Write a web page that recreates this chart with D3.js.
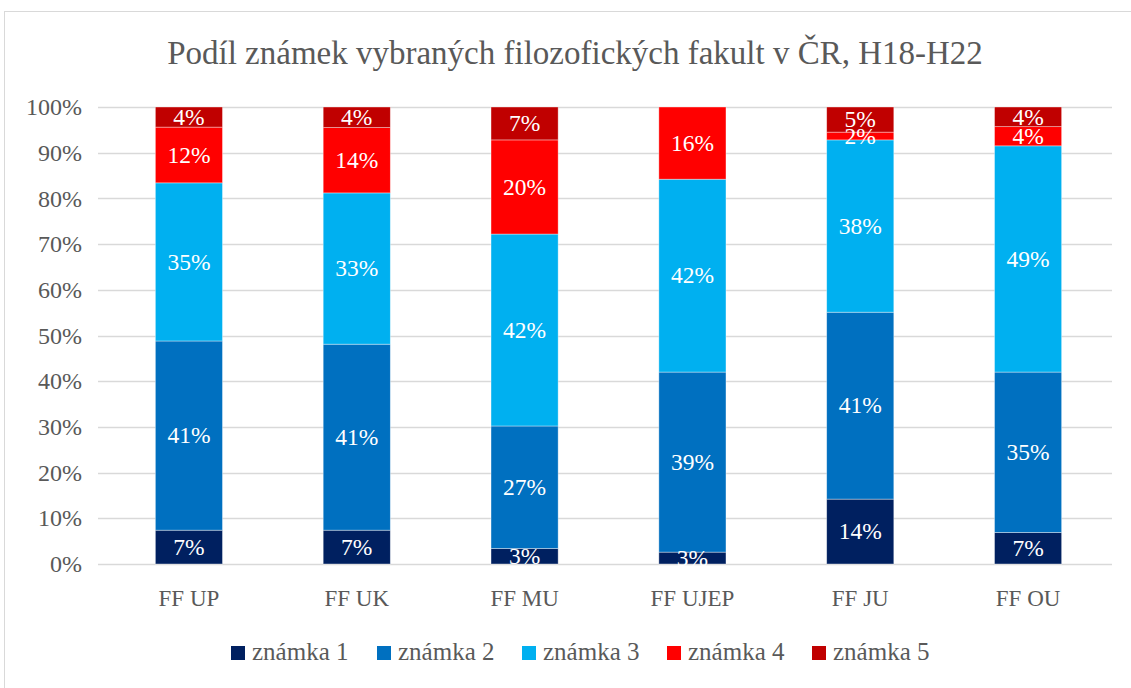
<!DOCTYPE html>
<html><head><meta charset="utf-8">
<script src="https://cdn.jsdelivr.net/npm/d3@7"></script>
<style>body{margin:0;background:#fff}svg{display:block}</style>
</head><body>
<svg id="c" width="1131" height="688"></svg>
<script>
const categories = ["FF UP","FF UK","FF MU","FF UJEP","FF JU","FF OU"];
const seriesNames = ["známka 1","známka 2","známka 3","známka 4","známka 5"];
const znamka1 = [7.4, 7.4, 3.4, 2.6, 14.2, 6.9];
const znamka2 = [41.4, 40.7, 26.8, 39.4, 40.9, 35.1];
const znamka3 = [34.6, 33.1, 42.0, 42.2, 37.7, 49.5];
const znamka4 = [12.2, 14.3, 20.6, 15.8, 1.7, 4.2];
const znamka5 = [4.4, 4.5, 7.2, 0, 5.5, 4.3];
const labels1 = ["7%","7%","3%","3%","14%","7%"];
const labels2 = ["41%","41%","27%","39%","41%","35%"];
const labels3 = ["35%","33%","42%","42%","38%","49%"];
const labels4 = ["12%","14%","20%","16%","2%","4%"];
const labels5 = ["4%","4%","7%","","5%","4%"];
const yTicks = [0,10,20,30,40,50,60,70,80,90,100];
const colors = ["#002060","#0070C0","#00B0F0","#FF0000","#C00000"];

const values = [znamka1, znamka2, znamka3, znamka4, znamka5];
const labelSets = [labels1, labels2, labels3, labels4, labels5];
const rows = categories.map((c,i)=>{const r={cat:c}; seriesNames.forEach((s,j)=>r[s]=values[j][i]); return r;});
const stacked = d3.stack().keys(seriesNames)(rows);

const svg = d3.select("#c");
const font = "'Liberation Serif', 'DejaVu Serif', serif";
const textCol = "#595959";

// chart border
svg.append("rect").attr("x",4.5).attr("y",11.5).attr("width",1140).attr("height",700)
  .attr("fill","none").attr("stroke","#d9d9d9").attr("stroke-width",1);

const x = d3.scaleBand().domain(categories).range([105,1112]).paddingInner(0.6).paddingOuter(0.3);
const y = d3.scaleLinear().domain([0,100]).range([564,107]);

// title
svg.append("text").attr("x",575).attr("y",64).attr("text-anchor","middle")
  .attr("font-family",font).attr("font-size",33).attr("fill",textCol)
  .text("Podíl známek vybraných filozofických fakult v ČR, H18-H22");

// gridlines
svg.append("g").selectAll("line").data(yTicks).join("line")
  .attr("x1",98).attr("x2",1112).attr("y1",d=>Math.round(y(d))+0.5).attr("y2",d=>Math.round(y(d))+0.5)
  .attr("stroke","#d9d9d9").attr("stroke-width",1.5);

// y axis labels
const yAxis = d3.axisLeft(y).tickValues(yTicks).tickFormat(d=>d+"%").tickSize(0).tickPadding(0);
const ya = svg.append("g").attr("transform","translate(82,0)").call(yAxis);
ya.select(".domain").remove();
ya.selectAll("text").attr("font-family",font).attr("font-size",24).attr("fill",textCol);

// x axis labels
const xAxis = d3.axisBottom(x).tickSize(0).tickPadding(0);
const xa = svg.append("g").attr("transform","translate(0,606)").call(xAxis);
xa.select(".domain").remove();
xa.selectAll("text").attr("font-family",font).attr("font-size",23).attr("fill",textCol).attr("y",0).attr("dy","0");

// bars
const g = svg.append("g");
stacked.forEach((layer,j)=>{
  g.append("g").selectAll("rect").data(layer).join("rect")
    .attr("x",d=>x(d.data.cat)).attr("width",x.bandwidth())
    .attr("y",d=>y(d[1])).attr("height",d=>y(d[0])-y(d[1]))
    .attr("fill",colors[j]).attr("stroke","rgba(255,255,255,0.5)").attr("stroke-width",0.75);
});
stacked.forEach((layer,j)=>{
  g.append("g").selectAll("text").data(layer).join("text")
    .attr("x",d=>x(d.data.cat)+x.bandwidth()/2)
    .attr("y",d=>(y(d[0])+y(d[1]))/2)
    .attr("dy","0.33em").attr("text-anchor","middle")
    .attr("font-family",font).attr("font-size",23.5).attr("fill","#fff")
    .text((d,i)=>labelSets[j][i]);
});

// legend
const lx = [231,377,522,667,812];
const lg = svg.append("g");
seriesNames.forEach((s,j)=>{
  lg.append("rect").attr("x",lx[j]).attr("y",646).attr("width",14).attr("height",14).attr("fill",colors[j]);
  lg.append("text").attr("x",lx[j]+21).attr("y",660)
    .attr("font-family",font).attr("font-size",25).attr("fill",textCol).text(s);
});
</script>
</body></html>
